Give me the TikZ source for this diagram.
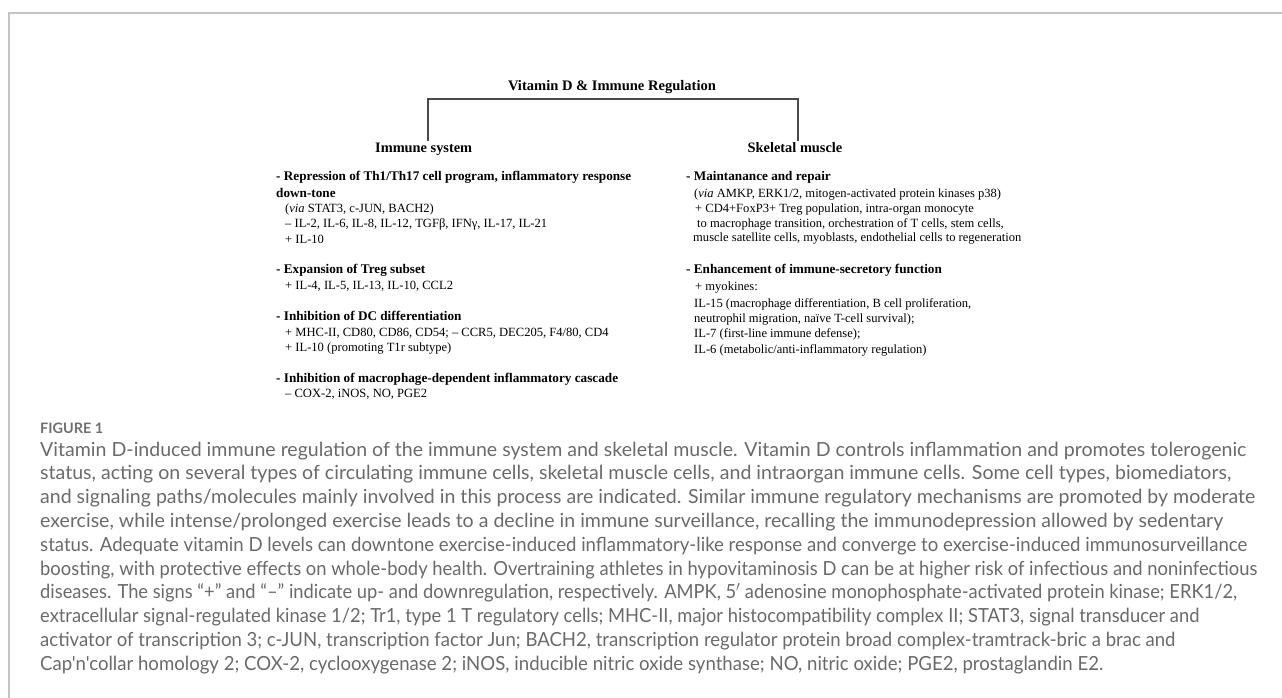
\documentclass[tikz,border=0pt]{standalone}
\usepackage{fontspec}
\usepackage{graphicx}
\setmainfont{Liberation Serif}
\newfontfamily\capfont{Lato}
\definecolor{bordergray}{HTML}{C4C4C4}
\definecolor{capgray}{HTML}{6A6A6A}
\definecolor{figgray}{HTML}{707070}
\definecolor{brack}{HTML}{4A4A4A}
\newlength\mw
\newcommand\fitsize[3]{\settowidth\mw{\fontsize{10}{12}\selectfont #3}\pgfmathsetmacro#1{10*#2/\mw}}
\newcommand\capfit[2]{\settowidth\mw{#2}\pgfmathsetmacro\sxf{#1/\mw}\scalebox{\sxf}[1]{#2}}
\AtBeginDocument{%
\fitsize\txsz{262}{– IL-2, IL-6, IL-8, IL-12, TGFβ, IFNγ, IL-17, IL-21}%
\fitsize\hdsz{355}{\bfseries - Repression of Th1/Th17 cell program, inflammatory response}%
\fitsize\ttsz{208}{\bfseries Vitamin D \& Immune Regulation}%
\fitsize\sbsz{97}{\bfseries Immune system}%
\fitsize\capsz{1200}{\capfont Vitamin D-induced immune regulation of the immune system and skeletal muscle. Vitamin D controls inflammation and promotes tolerogenic}%
\fitsize\figsz{63}{\capfont\bfseries FIGURE 1}%
}
\begin{document}
\begin{tikzpicture}[x=1pt,y=-1pt]
\tikzset{
  tx/.style={anchor=base west, inner sep=0pt, font=\fontsize{\txsz}{\txsz}\selectfont},
  hd/.style={anchor=base west, inner sep=0pt, font=\fontsize{\hdsz}{\hdsz}\selectfont\bfseries},
  subhead/.style={anchor=base west, inner sep=0pt, font=\fontsize{\sbsz}{\sbsz}\selectfont\bfseries},
  captext/.style={anchor=base west, inner sep=0pt, text=capgray, font=\capfont\fontsize{\capsz}{\capsz}\selectfont},
  figlab/.style={anchor=base west, inner sep=0pt, text=figgray, font=\capfont\fontsize{\figsz}{\figsz}\selectfont\bfseries},
  bracketline/.style={draw=brack, line width=1.1pt},
  frameline/.style={draw=bordergray, line width=1.4pt},
}
\useasboundingbox (0,0) rectangle (1282,698);
% frame
\coordinate (fTL) at (9,13);
\coordinate (fTR) at (1282,13);
\coordinate (fBL) at (9,698);
\draw[frameline] (fBL) -- (fTL) -- (fTR);
% title and bracket
\node[anchor=base, inner sep=0pt, font=\fontsize{\ttsz}{\ttsz}\selectfont\bfseries] (title) at (612,90.5) {Vitamin D \& Immune Regulation};
\node[subhead] (imm) at (375,152.5) {Immune system};
\node[subhead] (skm) at (747.5,152.5) {Skeletal muscle};
\coordinate (bl) at (428,141);
\coordinate (br) at (798,141);
\coordinate (bt) at (612,99);
\draw[bracketline] (bl) |- (bt) -| (br);
% left column
\node[hd] (l1) at (276,180) {- Repression of Th1/Th17 cell program, inflammatory response};
\node[hd] (l2) at (276,197) {down-tone};
\node[tx] (l3) at (285,212) {(\textit{via} STAT3, c-JUN, BACH2)};
\node[tx] (l4) at (285,227) {– IL-2, IL-6, IL-8, IL-12, TGFβ, IFNγ, IL-17, IL-21};
\node[tx] (l5) at (285,243) {+ IL-10};
\node[hd] (l6) at (276,273) {- Expansion of Treg subset};
\node[tx] (l7) at (285,289) {+ IL-4, IL-5, IL-13, IL-10, CCL2};
\node[hd] (l8) at (276,320) {- Inhibition of DC differentiation};
\node[tx] (l9) at (285,336) {+ MHC-II, CD80, CD86, CD54; – CCR5, DEC205, F4/80, CD4};
\node[tx] (l10) at (285,351) {+ IL-10 (promoting T1r subtype)};
\node[hd] (l11) at (276,382) {- Inhibition of macrophage-dependent inflammatory cascade};
\node[tx] (l12) at (285,397) {– COX-2, iNOS, NO, PGE2};
% right column
\node[hd] (r1) at (686,180) {- Maintanance and repair};
\node[tx] (r2) at (694,197) {(\textit{via} AMKP, ERK1/2, mitogen-activated protein kinases p38)};
\node[tx] (r3) at (695,212) {+ CD4+FoxP3+ Treg population, intra-organ monocyte};
\node[tx] (r4) at (697,227) {to macrophage transition, orchestration of T cells, stem cells,};
\node[tx] (r5) at (693,241) {muscle satellite cells, myoblasts, endothelial cells to regeneration};
\node[hd] (r6) at (686,273) {- Enhancement of immune-secretory function};
\node[tx] (r7) at (695,290) {+ myokines:};
\node[tx] (r8) at (694,307) {IL-15 (macrophage differentiation, B cell proliferation,};
\node[tx] (r9) at (694,322) {neutrophil migration, naïve T-cell survival);};
\node[tx] (r10) at (694,337) {IL-7 (first-line immune defense);};
\node[tx] (r11) at (694,353) {IL-6 (metabolic/anti-inflammatory regulation)};
% caption
\node[figlab] (fig) at (40,433) {FIGURE 1};
\node[captext] (c1) at (40,456) {\capfit{1206}{Vitamin D-induced immune regulation of the immune system and skeletal muscle. Vitamin D controls inflammation and promotes tolerogenic}};
\node[captext] (c2) at (40,479.8) {\capfit{1191}{status, acting on several types of circulating immune cells, skeletal muscle cells, and intraorgan immune cells. Some cell types, biomediators,}};
\node[captext] (c3) at (40,503.6) {\capfit{1215}{and signaling paths/molecules mainly involved in this process are indicated. Similar immune regulatory mechanisms are promoted by moderate}};
\node[captext] (c4) at (40,527.4) {\capfit{1183}{exercise, while intense/prolonged exercise leads to a decline in immune surveillance, recalling the immunodepression allowed by sedentary}};
\node[captext] (c5) at (40,551.2) {\capfit{1207}{status. Adequate vitamin D levels can downtone exercise-induced inflammatory-like response and converge to exercise-induced immunosurveillance}};
\node[captext] (c6) at (40,575) {\capfit{1217}{boosting, with protective effects on whole-body health. Overtraining athletes in hypovitaminosis D can be at higher risk of infectious and noninfectious}};
\node[captext] (c7) at (40,598.8) {\capfit{1197}{diseases. The signs “+” and “–” indicate up- and downregulation, respectively. AMPK, 5$'$ adenosine monophosphate-activated protein kinase; ERK1/2,}};
\node[captext] (c8) at (40,622.6) {\capfit{1159}{extracellular signal-regulated kinase 1/2; Tr1, type 1 T regulatory cells; MHC-II, major histocompatibility complex II; STAT3, signal transducer and}};
\node[captext] (c9) at (40,646.4) {\capfit{1135}{activator of transcription 3; c-JUN, transcription factor Jun; BACH2, transcription regulator protein broad complex-tramtrack-bric a brac and}};
\node[captext] (c10) at (40,670.2) {\capfit{1063}{Cap'n'collar homology 2; COX-2, cyclooxygenase 2; iNOS, inducible nitric oxide synthase; NO, nitric oxide; PGE2, prostaglandin E2.}};
\end{tikzpicture}
\end{document}
